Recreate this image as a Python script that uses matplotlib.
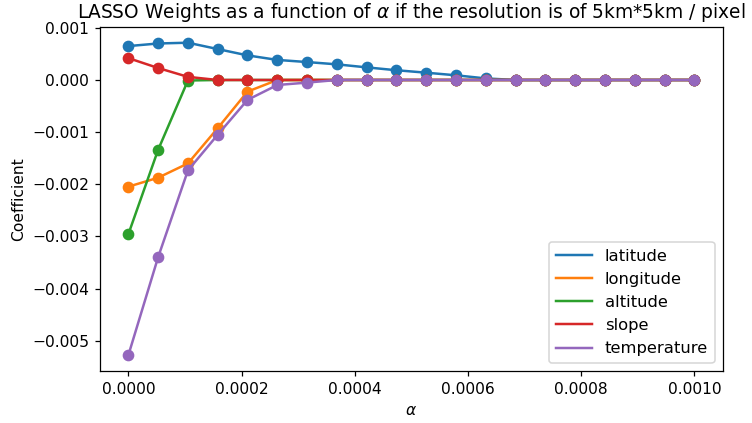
import matplotlib
matplotlib.use("Agg")
import matplotlib.pyplot as plt

alphas = [0.0, 0.0000526, 0.0001053, 0.0001579, 0.0002105, 0.0002632, 0.0003158,
          0.0003684, 0.0004211, 0.0004737, 0.0005263, 0.0005789, 0.0006316,
          0.0006842, 0.0007368, 0.0007895, 0.0008421, 0.0008947, 0.0009474, 0.001]

latitude = [0.000650, 0.000700, 0.000715, 0.000593, 0.000472, 0.000385, 0.000344,
            0.000300, 0.000242, 0.000187, 0.000140, 0.000090, 0.000030, 0.0,
            0.0, 0.0, 0.0, 0.0, 0.0, 0.0]
longitude = [-0.002046, -0.001874, -0.001600, -0.000924, -0.000223, 0.0, 0.0,
             0.0, 0.0, 0.0, 0.0, 0.0, 0.0, 0.0, 0.0, 0.0, 0.0, 0.0, 0.0, 0.0]
altitude = [-0.002960, -0.001340, -0.000010, 0.0, 0.0, 0.0, 0.0, 0.0, 0.0, 0.0,
            0.0, 0.0, 0.0, 0.0, 0.0, 0.0, 0.0, 0.0, 0.0, 0.0]
slope = [0.000420, 0.000230, 0.000060, 0.0, 0.0, 0.0, 0.0, 0.0, 0.0, 0.0,
         0.0, 0.0, 0.0, 0.0, 0.0, 0.0, 0.0, 0.0, 0.0, 0.0]
temperature = [-0.005280, -0.003400, -0.001734, -0.001050, -0.000382, -0.000096,
               -0.000050, 0.0, 0.0, 0.0, 0.0, 0.0, 0.0, 0.0, 0.0, 0.0, 0.0, 0.0,
               0.0, 0.0]

series = [("latitude", latitude), ("longitude", longitude), ("altitude", altitude),
          ("slope", slope), ("temperature", temperature)]

dpi = 112
fig = plt.figure(figsize=(752 / dpi, 423 / dpi), dpi=dpi)
ax = fig.add_axes([0.133, 0.123, 0.828, 0.813])

for name, vals in series:
    line, = ax.plot(alphas, vals, "-o", linewidth=1.6, markersize=6.5)
    # legend shows only the line, not the marker
    ax.plot([], [], "-", color=line.get_color(), linewidth=1.6, label=name)

ax.set_title(r"LASSO Weights as a function of $\alpha$ if the resolution is of 5km*5km / pixel")
ax.set_xlabel(r"$\alpha$")
ax.set_ylabel("Coefficient")
ax.legend(loc="lower right", fontsize=10.5, handlelength=2.2)

fig.savefig("out.png", dpi=dpi)
